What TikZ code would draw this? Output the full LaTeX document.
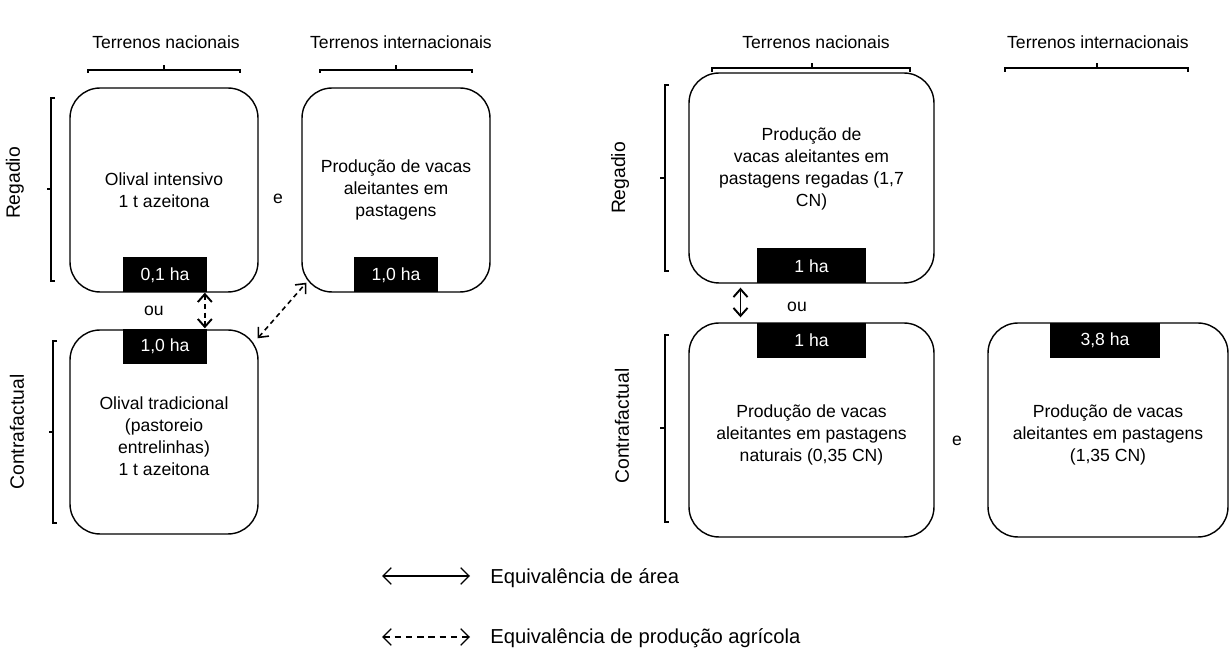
\documentclass[tikz,border=0pt]{standalone}
\usepackage{fontspec}
\setmainfont{Liberation Sans}
\usetikzlibrary{arrows.meta,calc}
\begin{document}
\begin{tikzpicture}[x=0.02cm,y=-0.02cm,
  box/.style={draw,line width=0.8pt,rounded corners=0.6cm,align=center,
    font=\fontsize{10}{12.5}\selectfont,inner sep=0pt},
  lab/.style={fill=black,text=white,inner sep=0pt,minimum height=0.7cm,
    font=\fontsize{10}{12}\selectfont},
  txt/.style={font=\fontsize{10}{12}\selectfont,inner sep=1pt},
  side/.style={font=\fontsize{11}{13}\selectfont,rotate=90,inner sep=1pt},
  brk/.style={line width=0.6pt},
  dasharrow/.style={dash pattern=on 2.8pt off 2.2pt,{Straight Barb[length=4.5pt,width=8pt]}-{Straight Barb[length=4.5pt,width=8pt]}},
  solidarrow/.style={{Straight Barb[length=4.5pt,width=8pt]}-{Straight Barb[length=4.5pt,width=8pt]}},
  legsolid/.style={line width=0.7pt,{Straight Barb[length=4.8pt,width=9.5pt]}-{Straight Barb[length=4.8pt,width=9.5pt]}},
  legdash/.style={line width=0.7pt,dash pattern=on 3.6pt off 2.8pt,{Straight Barb[length=4.8pt,width=9.5pt]}-{Straight Barb[length=4.8pt,width=9.5pt]}},
  legtxt/.style={font=\fontsize{11.5}{14}\selectfont,anchor=west,inner sep=0pt}
]
\useasboundingbox (0,0) rectangle (1231,651);
\fill[white] (0,0) rectangle (1231,651);

% ---------- left panel ----------
\node[txt] (tn1) at (166,42) {Terrenos nacionais};
\node[txt] (ti1) at (401,42) {Terrenos internacionais};
\draw[brk] (88,73) -- (88,70) -- (240,70) -- (240,73) (164,70) -- (164,65);
\draw[brk] (320,73) -- (320,70) -- (472,70) -- (472,73) (396,70) -- (396,65);

\node[side] (reg1) at (15,183) {Regadio};
\node[side] (con1) at (17,432) {Contrafactual};
\draw[brk] (55,98) -- (51,98) -- (51,281) -- (55,281) (51,189) -- (47,189);
\draw[brk] (57,341) -- (53,341) -- (53,523) -- (57,523) (53,432) -- (49,432);

\node[box,minimum width=3.76cm,minimum height=4.08cm] (boxA) at (164,190)
  {Olival intensivo\\1 t azeitona};
\node[box,minimum width=3.76cm,minimum height=4.08cm] (boxB) at (396,190)
  {Produção de vacas\\aleitantes em\\pastagens};
\node[box,minimum width=3.76cm,minimum height=4.08cm] (boxC) at (164,432)
  {~\\Olival tradicional\\(pastoreio\\entrelinhas)\\1 t azeitona};

\node[lab,minimum width=1.68cm,anchor=south] (labA) at ($(boxA.south)+(1,0)$) {0,1 ha};
\node[lab,minimum width=1.68cm,anchor=south] (labB) at (boxB.south) {1,0 ha};
\node[lab,minimum width=1.68cm,anchor=north] (labC) at ($(boxC.north)+(1,-1)$) {1,0 ha};

\node[txt] (e1) at (278,199) {e};
\node[txt] (ou1) at (154,311) {ou};

\draw[dasharrow,line width=1.1pt] ([xshift=-0.05cm]labA.south east) -- ([xshift=-0.05cm]labC.north east);
\draw[dasharrow,line width=0.9pt] ([shift={(-1,9)}]boxC.north east) -- ([shift={(5,-10)}]boxB.south west);

% ---------- right panel ----------
\node[txt] (tn2) at (816,42) {Terrenos nacionais};
\node[txt] (ti2) at (1098,42) {Terrenos internacionais};
\draw[brk] (712,72) -- (712,68) -- (910,68) -- (910,72) (812,68) -- (812,63);
\draw[brk] (1005,72) -- (1005,68) -- (1188,68) -- (1188,72) (1097,68) -- (1097,63);

\node[side] (reg2) at (620,178) {Regadio};
\node[side] (con2) at (622,426) {Contrafactual};
\draw[brk] (669,85) -- (665,85) -- (665,271) -- (669,271) (665,178) -- (660,178);
\draw[brk] (669,335) -- (665,335) -- (665,522) -- (669,522) (665,428) -- (660,428);

\node[box,minimum width=4.9cm,minimum height=4.2cm] (boxD) at (811.5,178)
  {Produção de\\vacas aleitantes em\\pastagens regadas (1,7\\CN)\\~};
\node[box,minimum width=4.9cm,minimum height=4.28cm] (boxE) at (811.5,430)
  {~\\Produção de vacas\\aleitantes em pastagens\\naturais (0,35 CN)};
\node[box,minimum width=4.8cm,minimum height=4.28cm] (boxF) at (1108,430)
  {~\\Produção de vacas\\aleitantes em pastagens\\(1,35 CN)};

\node[lab,minimum width=2.2cm,anchor=south] (labD) at (boxD.south) {1 ha};
\node[lab,minimum width=2.2cm,anchor=north] (labE) at (boxE.north) {1 ha};
\node[lab,minimum width=2.2cm,anchor=north] (labF) at ($(boxF.north)+(-3,0)$) {3,8 ha};

\node[txt] (ou2) at (797,307) {ou};
\node[txt] (e2) at (957,441) {e};

\draw[solidarrow,line width=1.1pt] ($(boxD.south)+(-71,4)$) -- ($(boxE.north)+(-71,-5)$);

% ---------- legend ----------
\coordinate (la1) at (382,576);
\coordinate (la2) at (470,576);
\coordinate (lb1) at (382,637);
\coordinate (lb2) at (470,637);
\node[legtxt] (leg1) at (490,578) {Equivalência de área};
\node[legtxt] (leg2) at (490,638) {Equivalência de produção agrícola};
\draw[legsolid] (la1) -- (la2);
\draw[legdash] (lb1) -- (lb2);
\end{tikzpicture}
\end{document}
